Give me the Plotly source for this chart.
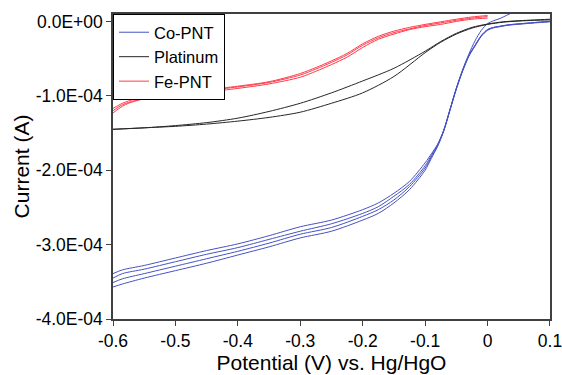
import plotly.graph_objects as go

# ---------------- data (currents in units of 1e-4 A) ----------------
E_co = [-0.6, -0.585, -0.55, -0.5, -0.45, -0.4, -0.35, -0.3, -0.25, -0.2, -0.175, -0.15, -0.125,
        -0.1, -0.09, -0.08, -0.07, -0.06, -0.05, -0.04, -0.03, -0.02, -0.01, 0.0, 0.01, 0.02,
        0.03, 0.04, 0.05, 0.075, 0.1]
co_1 = [-3.39, -3.34, -3.28, -3.18, -3.08, -2.99, -2.88, -2.76, -2.67, -2.53, -2.44, -2.31, -2.15,
        -1.90, -1.78, -1.65, -1.46, -1.18, -0.90, -0.65, -0.44, -0.26, -0.12, -0.03, 0.01, 0.04,
        0.08, 0.12, 0.16, 0.25, 0.35]
co_2 = [-3.45, -3.39, -3.33, -3.23, -3.13, -3.04, -2.93, -2.82, -2.72, -2.58, -2.49, -2.35, -2.19,
        -1.94, -1.80, -1.66, -1.46, -1.18, -0.90, -0.66, -0.46, -0.32, -0.19, -0.11, -0.08, -0.065,
        -0.05, -0.04, -0.033, -0.015, 0.0]
co_3 = [-3.51, -3.46, -3.39, -3.29, -3.19, -3.09, -2.98, -2.86, -2.77, -2.62, -2.53, -2.40, -2.22,
        -1.97, -1.82, -1.67, -1.46, -1.18, -0.90, -0.66, -0.46, -0.32, -0.19, -0.11, -0.08, -0.065,
        -0.05, -0.04, -0.033, -0.015, 0.0]
co_4 = [-3.57, -3.53, -3.45, -3.35, -3.25, -3.14, -3.03, -2.91, -2.82, -2.67, -2.58, -2.44, -2.26,
        -2.00, -1.84, -1.68, -1.47, -1.19, -0.91, -0.67, -0.47, -0.33, -0.20, -0.12, -0.085, -0.07,
        -0.055, -0.045, -0.038, -0.02, -0.005]

E_pt = [-0.6, -0.55, -0.5, -0.45, -0.4, -0.35, -0.3, -0.25, -0.2, -0.15, -0.1, -0.075, -0.05,
        -0.025, 0.0, 0.025, 0.05, 0.075, 0.1]
pt_fwd = [-1.45, -1.43, -1.40, -1.36, -1.30, -1.21, -1.10, -0.96, -0.80, -0.63, -0.40, -0.27, -0.16,
          -0.08, -0.035, -0.005, 0.01, 0.02, 0.03]
pt_rev = [-1.45, -1.43, -1.41, -1.38, -1.34, -1.29, -1.22, -1.10, -0.96, -0.74, -0.42, -0.28, -0.17,
          -0.09, -0.04, -0.01, 0.005, 0.015, 0.02]

E_fe = [-0.6, -0.585, -0.575, -0.55, -0.5, -0.45, -0.4, -0.35, -0.3, -0.275, -0.25, -0.225, -0.2,
        -0.175, -0.15, -0.125, -0.1, -0.075, -0.05, -0.025, 0.0]
fe_1 = [-1.17, -1.10, -1.07, -1.01, -0.96, -0.92, -0.87, -0.81, -0.70, -0.62, -0.53, -0.43, -0.30,
        -0.20, -0.13, -0.08, -0.04, -0.005, 0.03, 0.06, 0.08]
fe_2 = [-1.20, -1.12, -1.09, -1.03, -0.97, -0.93, -0.88, -0.82, -0.72, -0.64, -0.55, -0.45, -0.32,
        -0.22, -0.15, -0.10, -0.055, -0.02, 0.015, 0.045, 0.065]
fe_3 = [-1.23, -1.14, -1.10, -1.04, -0.99, -0.95, -0.90, -0.84, -0.75, -0.67, -0.58, -0.48, -0.35,
        -0.24, -0.17, -0.11, -0.07, -0.04, 0.0, 0.03, 0.045]

y_ticks = [0, -1e-4, -2e-4, -3e-4, -4e-4]
y_tick_text = ["0.0E+00", "-1.0E-04", "-2.0E-04", "-3.0E-04", "-4.0E-04"]
x_ticks = [-0.6, -0.5, -0.4, -0.3, -0.2, -0.1, 0, 0.1]
x_tick_text = ["-0.6", "-0.5", "-0.4", "-0.3", "-0.2", "-0.1", "0", "0.1"]

BLUE = "#4552C2"
BLACK = "#262626"
RED = "#FF3B4B"
AXIS = "#404040"


def sc(v):
    return [a * 1e-4 for a in v]


fig = go.Figure()
for i, c in enumerate([co_1, co_2, co_3, co_4]):
    fig.add_trace(go.Scatter(x=E_co, y=sc(c), mode="lines", name="Co-PNT", legendgroup="co",
                             showlegend=(i == 0),
                             line=dict(color=BLUE, width=1, shape="spline", smoothing=0.8)))
for i, c in enumerate([pt_fwd, pt_rev]):
    fig.add_trace(go.Scatter(x=E_pt, y=sc(c), mode="lines", name="Platinum", legendgroup="pt",
                             showlegend=(i == 0),
                             line=dict(color=BLACK, width=1, shape="spline", smoothing=0.8)))
for i, c in enumerate([fe_1, fe_2, fe_3]):
    fig.add_trace(go.Scatter(x=E_fe, y=sc(c), mode="lines", name="Fe-PNT", legendgroup="fe",
                             showlegend=(i == 0),
                             line=dict(color=RED, width=1, shape="spline", smoothing=0.8)))

fig.update_layout(
    width=562, height=375,
    margin=dict(l=113, r=12, t=14, b=56),
    paper_bgcolor="white", plot_bgcolor="white",
    font=dict(family="Liberation Sans, Arial, sans-serif", size=17.5, color="black"),
    showlegend=True,
    legend=dict(x=0, y=1, xanchor="left", yanchor="top", bgcolor="white",
                bordercolor="black", borderwidth=1, font=dict(size=16.5),
                tracegroupgap=0, itemwidth=30),
    xaxis=dict(range=[-0.6, 0.10002], tickvals=x_ticks, ticktext=x_tick_text, automargin=False,
               ticklabeloverflow="allow",
               showline=True, linecolor=AXIS, linewidth=1.5, mirror=True,
               ticks="outside", ticklen=5, tickcolor=AXIS, showgrid=False, zeroline=False,
               title=dict(text="Potential (V) vs. Hg/HgO", font=dict(size=21), standoff=0)),
    yaxis=dict(range=[-4e-4, 0.1e-4], tickvals=y_ticks, ticktext=y_tick_text, automargin=False,
               ticklabeloverflow="allow",
               showline=True, linecolor=AXIS, linewidth=1.5, mirror=True,
               ticks="outside", ticklen=5, tickcolor=AXIS, showgrid=False, zeroline=False,
               title=dict(text="Current (A)", font=dict(size=21), standoff=0)),
)

fig.write_html("out.html", config={"displayModeBar": False},
               post_script="document.body.style.margin='0';document.body.style.padding='0';")
